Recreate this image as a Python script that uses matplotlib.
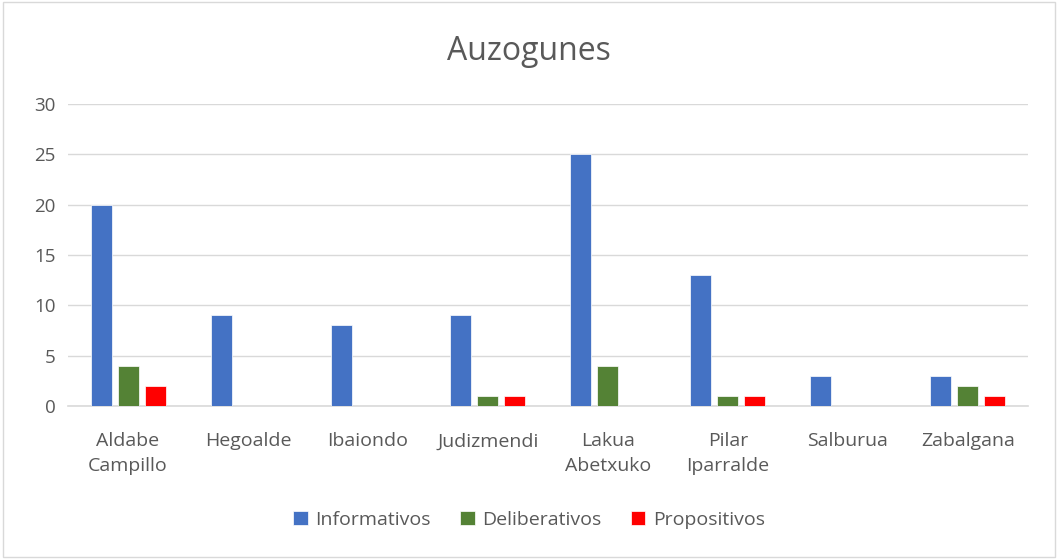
import matplotlib.pyplot as plt
import numpy as np

barrios = ["Aldabe\nCampillo", "Hegoalde", "Ibaiondo", "Judizmendi",
           "Lakua\nAbetxuko", "Pilar\nIparralde", "Salburua", "Zabalgana"]
informativos = [20, 9, 8, 9, 25, 13, 3, 3]
deliberativos = [4, 0, 0, 1, 4, 1, 0, 2]
propositivos = [2, 0, 0, 1, 0, 1, 0, 1]

plt.rcParams['font.family'] = ['Open Sans', 'DejaVu Sans']
gris = "#595959"

fig = plt.figure(figsize=(10.58, 5.59), dpi=100)
ax = fig.add_axes([0.0643, 0.2737, 0.9073, 0.5403])

x = np.arange(len(barrios))
w = 0.175
ax.bar(x - 0.225, informativos, w, color="#4472C4", edgecolor="white", linewidth=0.5, label="Informativos", zorder=3)
ax.bar(x, deliberativos, w, color="#548235", edgecolor="white", linewidth=0.5, label="Deliberativos", zorder=3)
ax.bar(x + 0.225, propositivos, w, color="#FF0000", edgecolor="white", linewidth=0.5, label="Propositivos", zorder=3)

ax.set_xlim(-0.5, len(barrios) - 0.5)
ax.set_ylim(0, 30)
ax.set_yticks(range(0, 31, 5))
ax.yaxis.grid(True, color="#D9D9D9", linewidth=1)
ax.set_axisbelow(True)
for s in ["top", "right", "left"]:
    ax.spines[s].set_visible(False)
ax.spines["bottom"].set_color("#D9D9D9")
ax.spines["bottom"].set_linewidth(1.2)
ax.tick_params(length=0, labelsize=13.5, labelcolor=gris)
ax.tick_params(axis="x", labelsize=14, pad=19)
ax.tick_params(axis="y", pad=9)
ax.set_xticks(x)
ax.set_xticklabels(barrios, linespacing=1.45)

fig.text(0.5, 0.908, "Auzogunes", ha="center", va="center", fontsize=23, color=gris)
fig.legend(loc="center", bbox_to_anchor=(0.5, 0.07), ncol=3, frameon=False,
           fontsize=14, labelcolor=gris, handlelength=0.75, handleheight=0.75,
           handletextpad=0.4, columnspacing=1.5)

border = plt.Rectangle((0.003, 0.003), 0.994, 0.994, transform=fig.transFigure,
                       fill=False, edgecolor="#D9D9D9", linewidth=1)
fig.patches.append(border)

fig.savefig("out.png", dpi=100)
